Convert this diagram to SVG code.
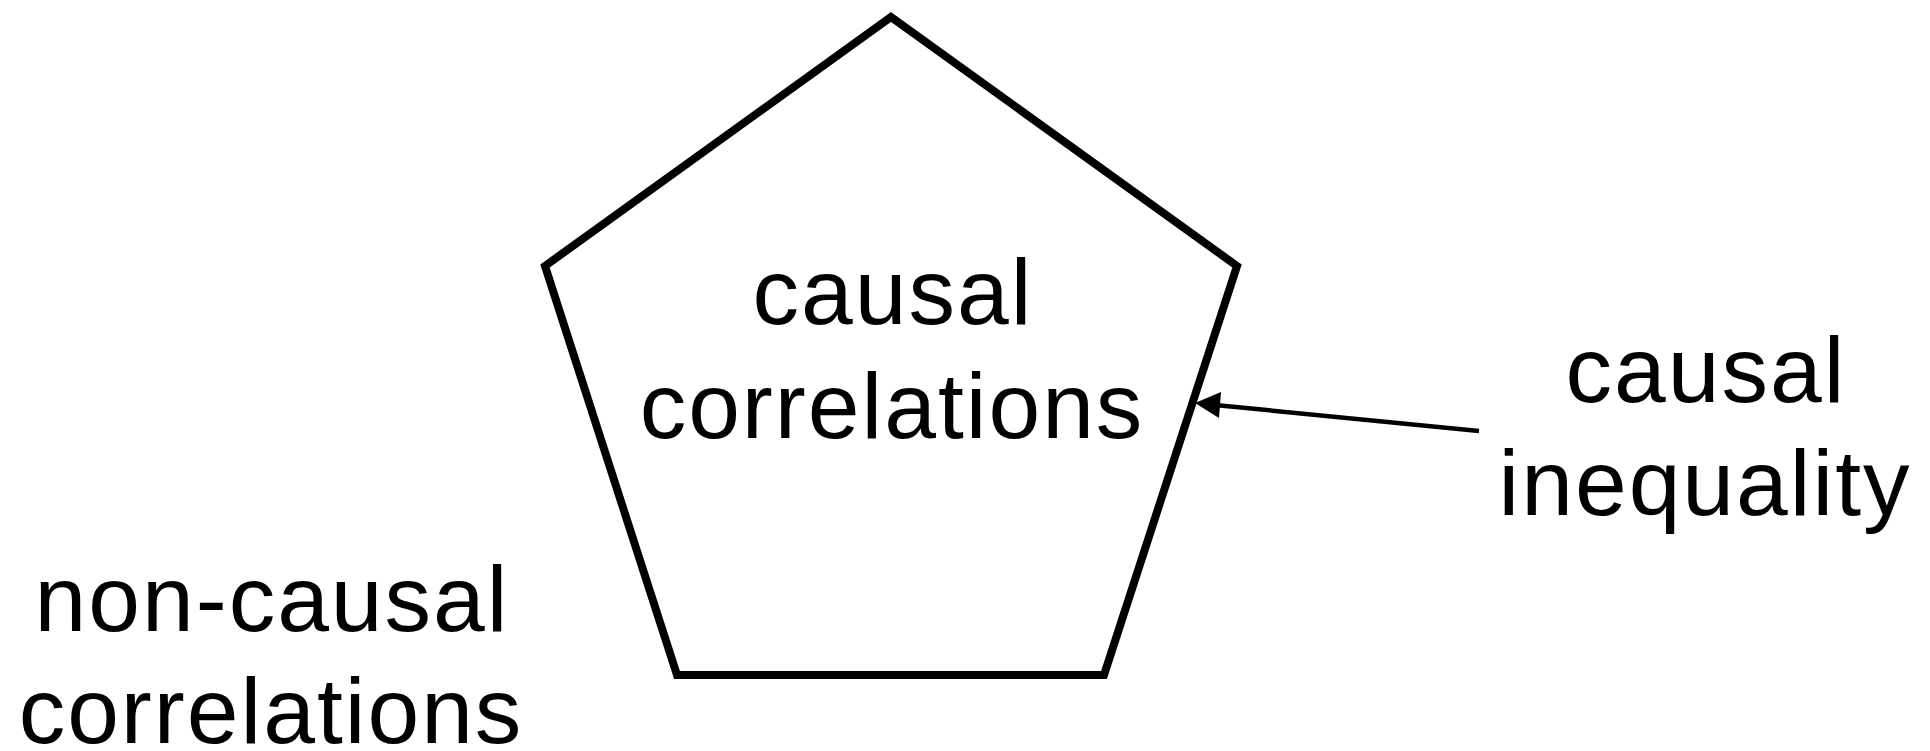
<svg xmlns="http://www.w3.org/2000/svg" width="1930" height="751" viewBox="0 0 1930 751">
<defs>
<style>
.lbl{font-family:"Liberation Sans",Arial,sans-serif;font-size:93px;letter-spacing:2px;fill:#000;text-anchor:middle}
.shape{fill:none;stroke:#000;stroke-width:8;stroke-linejoin:miter}
.conn{stroke:#000;stroke-width:4.5;fill:none}
</style>
</defs>
<rect width="1930" height="751" fill="#fff"/>
<g id="causal-correlations">
<polygon class="shape" points="891,17 1237,266 1104,675 677,675 545,266"/>
<text class="lbl" x="893" y="324">causal</text>
<text class="lbl" x="892" y="438">correlations</text>
</g>
<g id="causal-inequality">
<text class="lbl" x="1706" y="402">causal</text>
<text class="lbl" x="1705" y="515">inequality</text>
</g>
<g id="non-causal-correlations">
<text class="lbl" x="272" y="631">non-causal</text>
<text class="lbl" x="271" y="743">correlations</text>
</g>
<g id="connectors">
<line class="conn" x1="1479" y1="431" x2="1215" y2="405"/>
<path d="M1195,403 L1221,392 L1219,418 Z" fill="#000"/>
</g>
</svg>
